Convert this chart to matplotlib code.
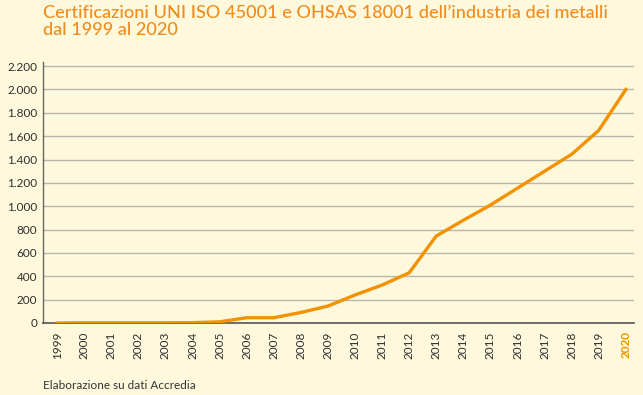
import matplotlib
matplotlib.use("Agg")
import matplotlib.pyplot as plt

# data
anni = list(range(1999, 2021))
certificazioni = [0, 2, 2, 2, 2, 3, 10, 45, 45, 90, 145, 240, 325, 430,
                  745, 880, 1010, 1155, 1300, 1445, 1650, 2000]
y_ticks = [0, 200, 400, 600, 800, 1000, 1200, 1400, 1600, 1800, 2000, 2200]
y_labels = ["0", "200", "400", "600", "800", "1.000", "1.200", "1.400",
            "1.600", "1.800", "2.000", "2.200"]

bg = "#FEF9DD"
orange = "#F39200"
title_orange = "#F08C1E"

plt.rcParams["font.family"] = ["Lato", "DejaVu Sans"]

fig = plt.figure(figsize=(6.43, 3.95), dpi=100, facecolor=bg)
ax = fig.add_axes([0.0669, 0.1823, 0.9191, 0.6607])
ax.set_facecolor(bg)

ax.plot(anni, certificazioni, color=orange, linewidth=2.4, solid_joinstyle="miter", zorder=3)

ax.set_ylim(0, 2235)
ax.set_xlim(1998.48, 2020.3)
ax.set_yticks(y_ticks)
ax.set_yticklabels(y_labels)
ax.set_xticks(anni)
ax.set_xticklabels([str(a) for a in anni], rotation=90)

ax.tick_params(axis="both", length=0, labelsize=8.5, colors="#2E2E2E")
ax.tick_params(axis="x", pad=6)
ax.tick_params(axis="y", pad=4)

for t in ax.get_xticklabels():
    if t.get_text() == "2020":
        t.set_color(orange)
        t.set_fontweight("bold")

ax.grid(axis="y", color="#B8B5AA", linewidth=1)
ax.set_axisbelow(True)
for s in ["top", "right"]:
    ax.spines[s].set_visible(False)
ax.spines["left"].set_color("#666666")
ax.spines["bottom"].set_color("#555555")
ax.spines["left"].set_linewidth(1)
ax.spines["bottom"].set_linewidth(1.2)

fig.text(0.0669, 0.988, "Certificazioni UNI ISO 45001 e OHSAS 18001 dell\u2019industria dei metalli\ndal 1999 al 2020",
         color=title_orange, fontsize=13.1, fontweight="medium", va="top", ha="left", linespacing=1.08)
fig.text(0.0669, 0.025, "Elaborazione su dati Accredia", color="#333333", fontsize=8.5,
         va="center", ha="left")

fig.savefig("out.png", dpi=100, facecolor=bg)
